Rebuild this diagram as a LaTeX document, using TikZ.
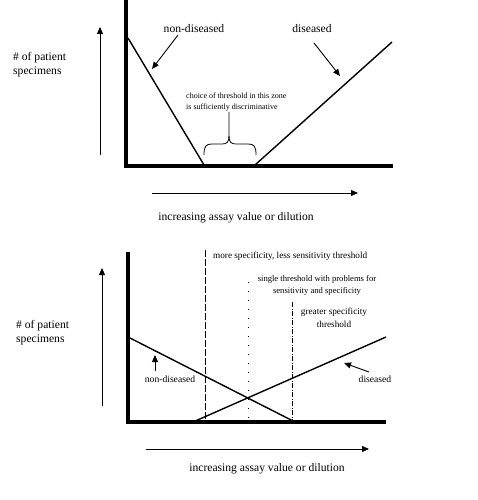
\documentclass[tikz,border=0pt]{standalone}
\usepackage{fontspec}
\setmainfont{Liberation Serif}
\usetikzlibrary{arrows.meta}
\begin{document}
\begin{tikzpicture}[x=1pt,y=-1pt,
  axis/.style={line width=4pt},
  curve/.style={line width=1.4pt},
  arr/.style={line width=0.9pt,-{Triangle[length=7pt,width=6pt]}},
  lbl/.style={font=\fontsize{11.6}{14}\selectfont,inner sep=0pt},
  small/.style={font=\fontsize{8.6}{12}\selectfont,inner sep=0pt,align=center},
  thr/.style={line width=0.8pt}]
\useasboundingbox (0,0) rectangle (478,500);
% ---------- top panel ----------
\coordinate (tO) at (126,166);
\coordinate (tTop) at (126,0);
\coordinate (tEnd) at (393,166);
\draw[axis] (tTop) -- (tO) -- (tEnd);
\coordinate (nd1) at (128,38); \coordinate (nd2) at (204,165);
\coordinate (d1) at (255,165); \coordinate (d2) at (392,42);
\draw[curve] (nd1) -- (nd2);
\draw[curve] (d1) -- (d2);
\node[lbl] (tnd) at (194,29) {non-diseased};
\node[lbl] (td) at (312,29) {diseased};
\coordinate (tndA) at (178,35); \coordinate (tndB) at (152,69);
\draw[arr] (tndA) -- (tndB);
\coordinate (tdA) at (314,43); \coordinate (tdB) at (340,76);
\draw[arr] (tdA) -- (tdB);
\node[lbl,anchor=west,align=left] (tyl) at (13,65) {\# of patient\\specimens};
\coordinate (tyA) at (100,155); \coordinate (tyB) at (100,27);
\draw[arr] (tyA) -- (tyB);
\coordinate (txA) at (152,193); \coordinate (txB) at (358,193);
\draw[arr] (txA) -- (txB);
\node[lbl] (txl) at (236,218) {increasing assay value or dilution};
\node[small,font=\fontsize{8}{11}\selectfont,anchor=west,align=left] (zone) at (186,102) {choice of threshold in this zone\\is sufficiently discriminative};
\draw[line width=0.8pt] (204,155) .. controls (204,146) and (206,144) .. (212,144) -- (222,144)
  .. controls (227,144) and (229,142) .. (229,136) -- (229,112);
\draw[line width=0.8pt] (256,155) .. controls (256,146) and (254,144) .. (248,144) -- (236,144)
  .. controls (231,144) and (229,142) .. (229,136);
% ---------- bottom panel ----------
\coordinate (bTop) at (128,252);
\coordinate (bO) at (128,422);
\coordinate (bEnd) at (386,422);
\draw[axis] (bTop) -- (bO) -- (bEnd);
\coordinate (bnd1) at (130,338); \coordinate (bnd2) at (295,422);
\coordinate (bd1) at (193,422); \coordinate (bd2) at (386,337);
\draw[curve] (bnd1) -- (bnd2);
\draw[curve] (bd1) -- (bd2);
\coordinate (t1a) at (205,250); \coordinate (t1b) at (205,421);
\draw[thr,dash pattern=on 7pt off 2pt] (t1a) -- (t1b);
\coordinate (t2a) at (248,282); \coordinate (t2b) at (248,421);
\draw[thr,dash pattern=on 1pt off 8pt] (t2a) -- (t2b);
\coordinate (t3a) at (292,302); \coordinate (t3b) at (292,421);
\draw[thr,dash pattern=on 5pt off 1.5pt on 1pt off 1.5pt] (t3a) -- (t3b);
\node[small,font=\fontsize{9.2}{12}\selectfont,anchor=west] (m1) at (213,256) {more specificity, less sensitivity threshold};
\node[small] (m2) at (317,285) {single threshold with problems for\\sensitivity and specificity};
\node[small,font=\fontsize{9.2}{13}\selectfont] (m3) at (334,318) {greater specificity\\threshold};
\node[lbl,font=\fontsize{9.6}{11}\selectfont] (bnd) at (170,379) {non-diseased};
\node[lbl,font=\fontsize{9.6}{11}\selectfont] (bd) at (375,379) {diseased};
\coordinate (bndA) at (155,371); \coordinate (bndB) at (155,355);
\draw[arr] (bndA) -- (bndB);
\coordinate (bdA) at (369,372); \coordinate (bdB) at (344,363);
\draw[arr] (bdA) -- (bdB);
\node[lbl,anchor=west,align=left] (byl) at (16,333) {\# of patient\\specimens};
\coordinate (byA) at (102,406); \coordinate (byB) at (102,268);
\draw[arr] (byA) -- (byB);
\coordinate (bxA) at (146,449); \coordinate (bxB) at (369,449);
\draw[arr] (bxA) -- (bxB);
\node[lbl] (bxl) at (267,469) {increasing assay value or dilution};
\end{tikzpicture}
\end{document}
